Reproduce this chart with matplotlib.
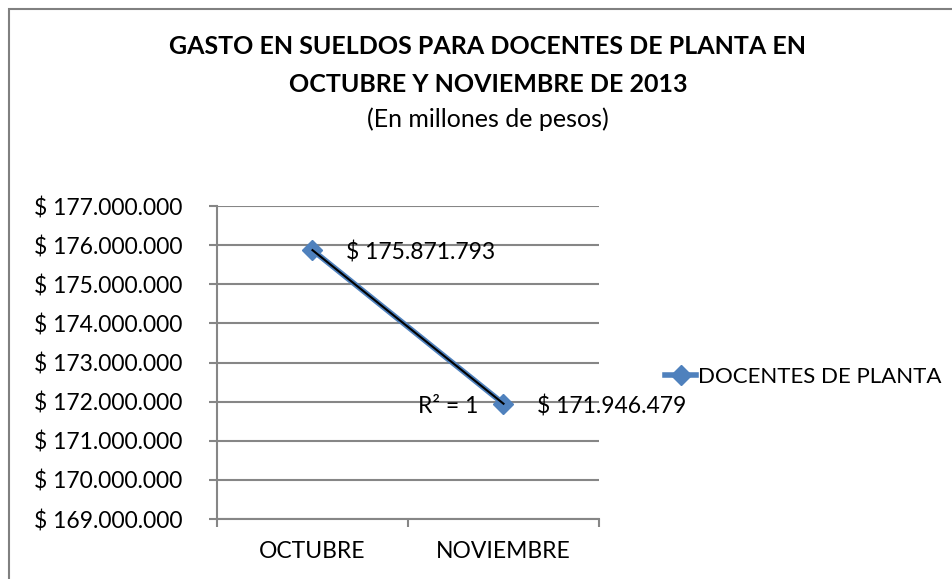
import matplotlib.pyplot as plt
import numpy as np
from matplotlib.patches import Rectangle
from matplotlib.lines import Line2D

# ---DATA---#
categories = ['OCTUBRE', 'NOVIEMBRE']
gasto = [175871793, 171946479]
etiquetas = ['$ 175.871.793', '$ 171.946.479']
yticks = [169000000 + 1000000 * i for i in range(9)]
ytick_labels = ['$ ' + format(v, ',').replace(',', '.') for v in yticks]

plt.rcParams['font.family'] = ['Lato', 'DejaVu Sans']
fs = 16.5

# ---FIGURE---#
f = plt.figure(figsize=(9.53, 5.79), dpi=100)
ax = f.add_axes([217 / 953, 1 - 519 / 579, 382 / 953, 313 / 579])

blue = '#4F81BD'
grid = '#868686'
x = np.arange(len(categories))

# series line
ax.plot(x, gasto, color=blue, lw=4, marker='D', ms=10, mfc=blue, mec=blue, zorder=3)
# linear trendline
coef = np.polyfit(x, gasto, 1)
ax.plot(x, np.polyval(coef, x), color='black', lw=1.5, zorder=4)

# data labels
for xi, yi, lab in zip(x, gasto, etiquetas):
    ax.annotate(lab, (xi, yi), xytext=(24, -2), textcoords='offset points',
                va='center', ha='left', fontsize=fs, color='black', zorder=5)
ax.annotate('R² = 1', (x[1], gasto[1]), xytext=(-18, -2), textcoords='offset points',
            va='center', ha='right', fontsize=fs, color='black', zorder=5)

# axes styling
ax.set_xlim(-0.5, 1.5)
ax.set_ylim(169000000, 177000000)
ax.set_yticks(yticks)
ax.set_yticklabels(ytick_labels, fontsize=fs)
ax.set_xticks(x)
ax.set_xticklabels(categories, fontsize=fs)
ax.set_xticks([-0.5, 0.5, 1.5], minor=True)
ax.tick_params(axis='x', which='major', length=0, pad=16)
ax.tick_params(axis='x', which='minor', length=6, direction='out', color=grid, width=1.5)
ax.tick_params(axis='y', length=6, direction='out', color=grid, width=1.5, pad=19)
ax.grid(axis='y', color=grid, lw=1.5)
ax.set_axisbelow(True)
for s in ['top', 'right']:
    ax.spines[s].set_visible(False)
for s in ['left', 'bottom']:
    ax.spines[s].set_color(grid)
    ax.spines[s].set_linewidth(1.5)

# legend
h = Line2D([], [], color=blue, lw=4, marker='D', ms=10, mfc=blue, mec=blue)
f.legend([h], ['DOCENTES DE PLANTA'], loc='center left', bbox_to_anchor=(665 / 953, 1 - 377 / 579),
         frameon=False, fontsize=16, handlelength=1.4, handletextpad=0.1, borderpad=0, borderaxespad=0)

# title
cx = 488 / 953
f.text(cx, 1 - 47 / 579, 'GASTO EN SUELDOS PARA DOCENTES DE PLANTA EN', ha='center', va='center',
       fontsize=18, fontweight='bold')
f.text(cx, 1 - 84 / 579, 'OCTUBRE Y NOVIEMBRE DE 2013', ha='center', va='center',
       fontsize=18, fontweight='bold')
f.text(cx, 1 - 119 / 579, '(En millones de pesos)', ha='center', va='center', fontsize=18)

# chart border (only left and top visible in crop)
f.patches.append(Rectangle((9 / 953, -1), 3, 2 - 9 / 579, transform=f.transFigure,
                           fill=False, edgecolor='#808080', lw=1.5))

f.savefig('out.png', dpi=100)
